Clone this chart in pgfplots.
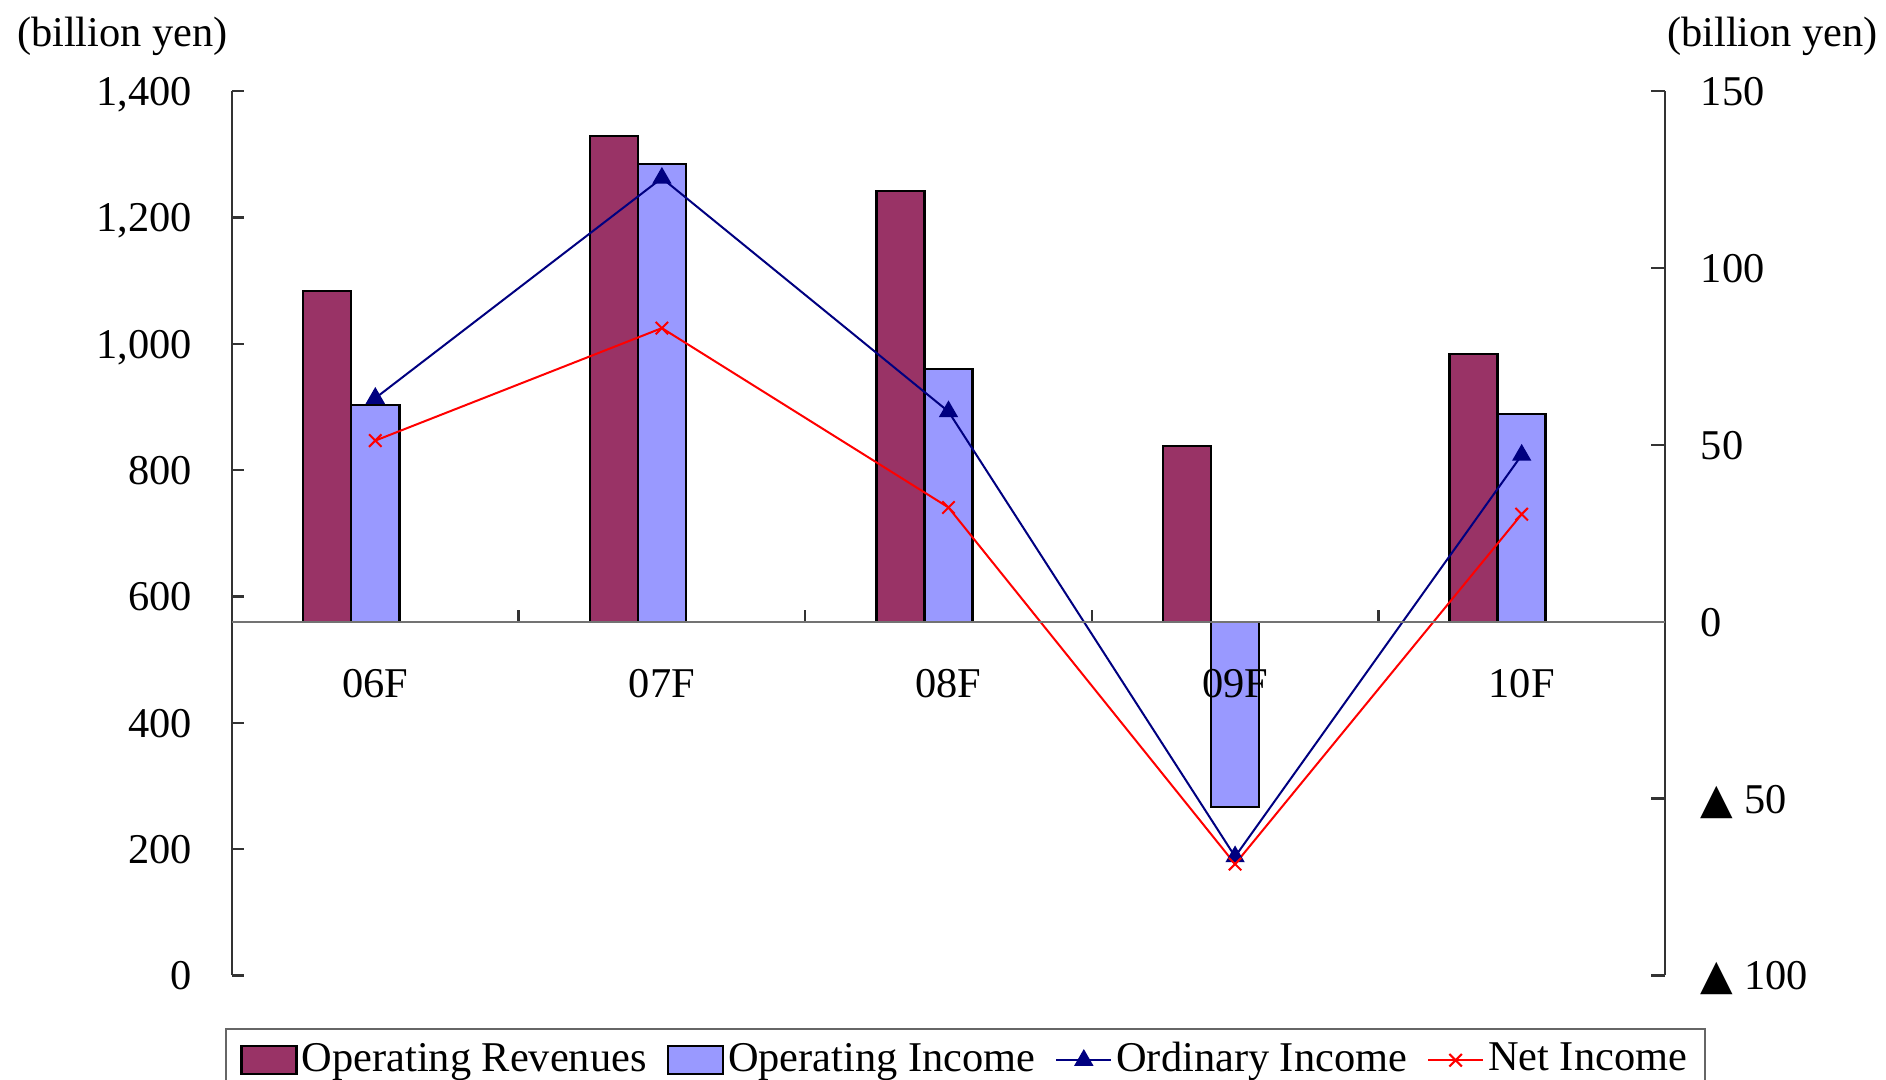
\documentclass[border=0pt]{standalone}
\usepackage{fontspec}
\setmainfont{Liberation Serif}
\newfontfamily\symfont{DejaVu Sans}
\usepackage{pgfplots}
\pgfplotsset{compat=1.18}

\definecolor{revcol}{HTML}{993366}
\definecolor{opcol}{HTML}{9999FF}
\definecolor{ordcol}{HTML}{000080}
\newcommand\cf{\fontsize{10.6pt}{12.7pt}\selectfont}
\newcommand\tri{{\symfont\char"25B2}}

\pgfplotsset{
  every axis/.append style={
    scale only axis, width=358.25pt, height=221.1pt,
    at={(0,0)}, anchor=south west,
    xmin=-0.5, xmax=4.5,
    tick label style={font=\cf},
    tick align=inside,
  },
  barimg/.style={legend image code/.code={\draw[##1] (0pt,-3.5pt) rectangle (13.75pt,3.5pt);}},
  lineimg/.style={legend image code/.code={\draw[mark repeat=2,mark phase=2,##1] plot coordinates {(0pt,0pt) (6.875pt,0pt) (13.75pt,0pt)};}},
}

\begin{document}
\cf
\begin{tikzpicture}
\useasboundingbox (-58pt,-26.125pt) rectangle (413.5pt,243.875pt);

% left axis: operating revenues, bars start at 560 where the category line is
\begin{axis}[
    ymin=0, ymax=1400,
    y coord trafo/.code={\pgfmathparse{#1-560}},
    y coord inv trafo/.code={\pgfmathparse{#1+560}},
    axis x line=none, axis y line*=left,
    y axis line style={-, draw=black!80, line width=0.6pt},
    ytick={0,200,400,600,800,1000,1200,1400},
    yticklabels={0,200,400,600,800,{1,000},{1,200},{1,400}},
    major tick length=3pt,
    y tick style={draw=black!80, line width=0.6pt},
    yticklabel style={anchor=base east, xshift=-6.25pt, yshift=-3.6pt},
    clip=false,
  ]
  \addplot[ybar, bar width=0.1675, bar shift=-0.1675, fill=revcol, draw=black, line width=0.6pt]
    coordinates {(0,1084) (1,1329) (2,1242) (3,838) (4,984)};
  \node[font=\cf] at (rel axis cs:0,1) [xshift=-27.4pt, yshift=13.6pt] {(billion yen)};
\end{axis}

% right axis: incomes
\begin{axis}[
    ymin=-100, ymax=150,
    axis x line=none, axis y line*=right,
    y axis line style={-, draw=black!80, line width=0.6pt},
    ytick={-100,-50,0,50,100,150},
    yticklabels={\tri\ 100,\tri\ 50,0,50,100,150},
    major tick length=3.5pt,
    y tick style={draw=black!80, line width=0.6pt},
    yticklabel style={anchor=base west, xshift=5.25pt, yshift=-3.6pt},
    clip=false,
    legend columns=4,
    legend cell align=left,
    legend style={
      at={(0.512,-0.0593)}, anchor=north,
      font=\cf, draw=black!60, line width=0.6pt,
      inner xsep=3.5pt, inner ysep=2pt,
      nodes={inner xsep=1pt, inner ysep=1.3pt},
      /tikz/every even column/.append style={column sep=4pt},
    },
  ]
  \addlegendimage{barimg, fill=revcol, draw=black, line width=0.6pt}
  \addlegendentry{Operating Revenues}
  \addplot[ybar, bar width=0.1675, bar shift=0, fill=opcol, draw=black, line width=0.6pt, barimg]
    coordinates {(0,61.2) (1,129.4) (2,71.5) (3,-52.3) (4,58.7)};
  \addlegendentry{Operating Income}
  \addplot[ordcol, line width=0.5pt, mark=triangle*, mark size=2.3pt, mark options={solid}, lineimg]
    coordinates {(0,63.2) (1,125.4) (2,59.4) (3,-66.4) (4,47.1)};
  \addlegendentry{Ordinary Income}
  \addplot[red, line width=0.5pt, mark=x, mark size=2.2pt, mark options={solid}, lineimg]
    coordinates {(0,51.2) (1,83.0) (2,32.3) (3,-68.5) (4,30.4)};
  \addlegendentry{Net Income}
  \node[font=\cf] at (rel axis cs:1,1) [xshift=26.9pt, yshift=13.6pt] {(billion yen)};
\end{axis}

% category line at income 0
\begin{axis}[
    at={(0,88.44pt)}, height=132.66pt,
    ymin=0, ymax=1,
    axis y line=none, axis x line*=bottom,
    x axis line style={-, draw=black!55, line width=0.6pt},
    xtick={0,1,2,3,4},
    xticklabels={06F,07F,08F,09F,10F},
    major x tick style={draw=none},
    minor xtick={0.5,1.5,2.5,3.5},
    minor tick length=3pt,
    minor x tick style={draw=black!80, line width=0.6pt},
    xticklabel style={yshift=-8.25pt},
  ]
\end{axis}
\end{tikzpicture}
\end{document}
